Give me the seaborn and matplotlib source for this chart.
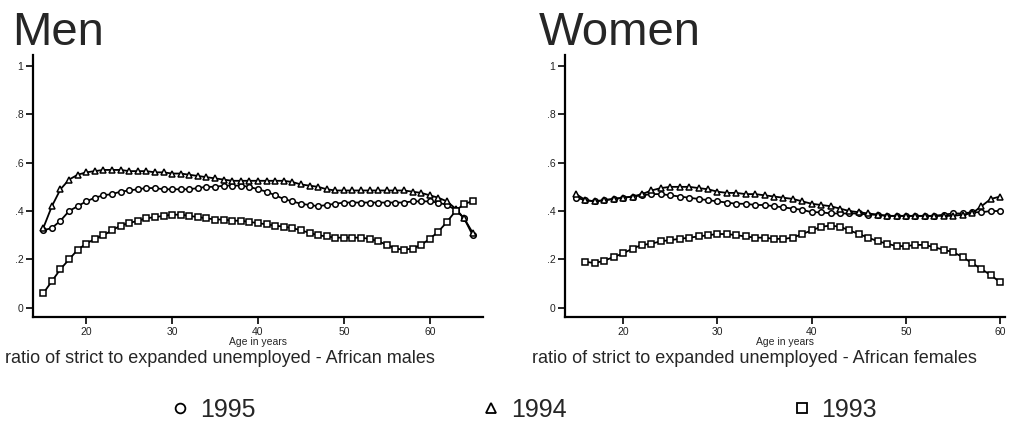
import matplotlib
matplotlib.use("Agg")
import matplotlib.pyplot as plt
import seaborn as sns
import numpy as np
from matplotlib.lines import Line2D
from matplotlib import font_manager

sns.set_theme(style="white")
names = {f.name for f in font_manager.fontManager.ttflist}
narrow = "Liberation Sans Narrow" if "Liberation Sans Narrow" in names else "Liberation Sans"
plt.rcParams['font.family'] = ['Liberation Sans', 'DejaVu Sans']

# ---------------- data ----------------
men_age = list(range(15, 66))
men_1995 = [0.32, 0.33, 0.36, 0.40, 0.42, 0.44, 0.455, 0.465, 0.47, 0.48,
            0.485, 0.49, 0.495, 0.495, 0.49, 0.49, 0.49, 0.49, 0.495, 0.50,
            0.50, 0.505, 0.505, 0.505, 0.50, 0.49, 0.48, 0.465, 0.45, 0.44,
            0.43, 0.425, 0.42, 0.425, 0.43, 0.435, 0.435, 0.435, 0.435, 0.435,
            0.435, 0.435, 0.435, 0.44, 0.44, 0.44, 0.435, 0.425, 0.405, 0.37, 0.30]
men_1994 = [0.33, 0.42, 0.49, 0.53, 0.55, 0.56, 0.565, 0.57, 0.57, 0.57,
            0.565, 0.565, 0.565, 0.56, 0.56, 0.555, 0.555, 0.55, 0.545, 0.54,
            0.535, 0.53, 0.525, 0.525, 0.525, 0.525, 0.525, 0.525, 0.525, 0.52,
            0.51, 0.505, 0.50, 0.49, 0.485, 0.485, 0.485, 0.485, 0.485, 0.485,
            0.485, 0.485, 0.485, 0.48, 0.475, 0.465, 0.455, 0.44, 0.41, 0.37, 0.31]
men_1993 = [0.06, 0.11, 0.16, 0.20, 0.24, 0.265, 0.285, 0.30, 0.32, 0.34,
            0.35, 0.36, 0.37, 0.375, 0.38, 0.385, 0.385, 0.38, 0.375, 0.37,
            0.365, 0.365, 0.36, 0.36, 0.355, 0.35, 0.345, 0.34, 0.335, 0.33,
            0.32, 0.31, 0.30, 0.295, 0.29, 0.29, 0.29, 0.29, 0.285, 0.275,
            0.26, 0.245, 0.24, 0.245, 0.26, 0.285, 0.315, 0.355, 0.40, 0.43, 0.44]

women_age = list(range(15, 61))
women_1995 = [0.455, 0.445, 0.44, 0.445, 0.45, 0.455, 0.46, 0.465, 0.47, 0.47,
              0.465, 0.46, 0.455, 0.45, 0.445, 0.44, 0.435, 0.43, 0.43, 0.425,
              0.425, 0.42, 0.415, 0.41, 0.405, 0.395, 0.395, 0.39, 0.39, 0.39,
              0.39, 0.385, 0.385, 0.38, 0.38, 0.38, 0.38, 0.38, 0.38, 0.385,
              0.39, 0.39, 0.395, 0.395, 0.40, 0.40]
women_1994 = [0.47, 0.445, 0.44, 0.445, 0.45, 0.455, 0.46, 0.47, 0.485, 0.495,
              0.50, 0.50, 0.50, 0.495, 0.49, 0.48, 0.475, 0.475, 0.47, 0.47,
              0.465, 0.46, 0.455, 0.45, 0.44, 0.43, 0.425, 0.42, 0.41, 0.40,
              0.395, 0.39, 0.385, 0.38, 0.38, 0.38, 0.38, 0.38, 0.38, 0.38,
              0.38, 0.385, 0.39, 0.42, 0.45, 0.46]
women_age_1993 = list(range(16, 61))
women_1993 = [0.19, 0.185, 0.195, 0.21, 0.225, 0.245, 0.26, 0.265, 0.275, 0.28,
              0.285, 0.29, 0.295, 0.30, 0.305, 0.305, 0.30, 0.295, 0.29, 0.29,
              0.285, 0.285, 0.29, 0.305, 0.32, 0.335, 0.34, 0.335, 0.32, 0.305,
              0.29, 0.275, 0.265, 0.255, 0.255, 0.26, 0.26, 0.25, 0.24, 0.23,
              0.21, 0.185, 0.16, 0.135, 0.105]

years = ["1995", "1994", "1993"]
y_ticks = [0, 0.2, 0.4, 0.6, 0.8, 1.0]
y_ticklabels = ["0", ".2", ".4", ".6", ".8", "1"]
x_ticks = [20, 30, 40, 50, 60]

# ---------------- figure ----------------
W, H = 1011, 428
fig = plt.figure(figsize=(W / 100, H / 100), dpi=100)

def fx(px):
    return px / W

def fy(py):
    return 1 - py / H

ax_m = fig.add_axes([fx(33), fy(317), fx(483 - 33), (317 - 55) / H])
ax_w = fig.add_axes([fx(565), fy(317), fx(1005 - 565), (317 - 55) / H])

styles = {
    "1995": dict(marker="o", markersize=4.0),
    "1994": dict(marker="^", markersize=4.2),
    "1993": dict(marker="s", markersize=4.8),
}

def draw(ax, series):
    for yr, xs, ys in series:
        st = styles[yr]
        sns.lineplot(x=xs, y=ys, ax=ax, color="black", linewidth=1.3,
                     marker=st["marker"], markersize=st["markersize"],
                     markerfacecolor="white", markeredgecolor="black",
                     markeredgewidth=1.1, legend=False)

draw(ax_m, [("1995", men_age, men_1995), ("1994", men_age, men_1994),
            ("1993", men_age, men_1993)])
draw(ax_w, [("1995", women_age, women_1995), ("1994", women_age, women_1994),
            ("1993", women_age_1993, women_1993)])

for ax, xlim in [(ax_m, (13.8, 66.2)), (ax_w, (13.83, 60.5))]:
    ax.set_xlim(*xlim)
    ax.set_ylim(-0.038, 1.045)
    ax.set_yticks(y_ticks)
    ax.set_yticklabels(y_ticklabels)
    ax.set_xticks(x_ticks)
    ax.set_xticklabels([str(t) for t in x_ticks])
    for s in ["top", "right"]:
        ax.spines[s].set_visible(False)
    for s in ["left", "bottom"]:
        ax.spines[s].set_color("black")
        ax.spines[s].set_linewidth(1.6)
    ax.tick_params(axis="both", which="both", direction="out", length=5,
                   width=1.2, color="black", labelsize=7.5, pad=2,
                   left=True, bottom=True, labelcolor="#222222")
    ax.set_xlabel("Age in years", fontsize=7.5, labelpad=0, family=narrow)
    ax.set_ylabel("")
    ax.set_facecolor("white")

fig.text(fx(12), fy(45), "Men", fontsize=34, va="baseline", ha="left")
fig.text(fx(539), fy(45), "Women", fontsize=34, va="baseline", ha="left")

fig.text(fx(5), fy(363), "ratio of strict to expanded unemployed - African males",
         fontsize=13, va="baseline", ha="left", family=narrow)
fig.text(fx(532), fy(363), "ratio of strict to expanded unemployed - African females",
         fontsize=13, va="baseline", ha="left", family=narrow)

handles = [Line2D([], [], linestyle="none", color="black", marker=styles[y]["marker"],
                  markersize=7, markerfacecolor="white", markeredgewidth=1.3)
           for y in years]
fig.legend(handles, years, loc="center", bbox_to_anchor=(fx(525), fy(410)),
           ncol=3, frameon=False, fontsize=18, handlelength=0.6,
           handletextpad=0.5, columnspacing=9.1)

fig.savefig("out.png", dpi=100, facecolor="white")
